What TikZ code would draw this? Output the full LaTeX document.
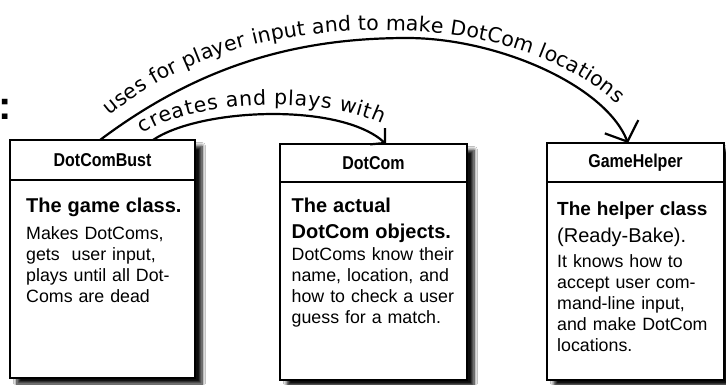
\documentclass[tikz,border=0pt]{standalone}
\usepackage{fontspec}
\setmainfont{Liberation Sans}
\newfontfamily\headfont[FakeStretch=0.86]{Liberation Sans}
\newfontfamily\handfont{DejaVu Sans}
\usetikzlibrary{arrows.meta, positioning, calc, fit, backgrounds, decorations.text, shadows.blur}
\newcommand{\bodysize}{\fontsize{17.8}{21}\selectfont}
\newcommand{\titlesize}{\fontsize{20}{25}\selectfont\bfseries}
\newcommand{\handsize}{\handfont\fontsize{20.5}{20.5}\selectfont}
\tikzset{
    classhead/.style  ={rectangle, draw=black, fill=white, line width=2.6pt, outer sep=0pt, inner sep=0pt, font=\headfont\bfseries\fontsize{18.6}{20}\selectfont},
    classbody/.style  ={rectangle, draw=black, fill=white, line width=2.6pt, outer sep=0pt, inner sep=0pt},
    classtext/.style  ={anchor=north west, inner sep=0pt, align=left, text width=180pt, font=\bodysize},
    classshadow/.style={rectangle, fill=white, inner sep=0pt, blur shadow={shadow xshift=7pt, shadow yshift=-6pt, shadow blur radius=3.5pt, shadow blur steps=8, shadow opacity=95}},
    usesarrow/.style  ={line width=2.2pt, -{Straight Barb[length=16pt, width=36pt]}},
    playsarrow/.style ={line width=2.2pt, -{Straight Barb[length=10pt, width=22pt]}},
    handlabel/.style  ={decorate, decoration={text along path, text align=fit to path, text={|\handsize|#1}}},
}

\begin{document}
\begin{tikzpicture}[x=1pt, y=-1pt]
    \useasboundingbox (0,0) rectangle (726,384);
    \node[font=\bfseries\fontsize{40}{40}\selectfont, anchor=base west, inner sep=0pt] (colon) at (-1.5,119) {:};

    % the three classes
    \node[classhead, minimum width=185pt, minimum height=40pt] (bust) at (102.5,160) {DotComBust};
    \node[classbody, below=0pt of bust, minimum width=185pt, minimum height=198pt] (bustbox) {};
    \node[classtext] (busttext) at ([xshift=16pt, yshift=-18pt]bustbox.north west)
        {{\titlesize The game class.}\\[6pt]
         Makes DotComs,\\ gets\ \ user input,\\ plays until all Dot-\\ Coms are dead};

    \node[classhead, minimum width=187pt, minimum height=38pt] (dotcom) at (373.5,163) {DotCom};
    \node[classbody, below=0pt of dotcom, minimum width=187pt, minimum height=198pt] (dotcombox) {};
    \node[classtext] (dotcomtext) at ([xshift=11.5pt, yshift=-16pt]dotcombox.north west)
        {{\titlesize The actual}\\[5pt] {\titlesize DotCom objects.}\\[1pt]
         DotComs know their\\ name, location, and\\ how to check a user\\ guess for a match.};

    \node[classhead, minimum width=177pt, minimum height=39pt] (helper) at (635.5,162.5) {GameHelper};
    \node[classbody, below=0pt of helper, minimum width=177pt, minimum height=198pt] (helperbox) {};
    \node[classtext] (helpertext) at ([xshift=10pt, yshift=-20pt]helperbox.north west)
        {{\titlesize\fontsize{19}{25}\selectfont The helper class}\\[5.5pt]
         {\fontsize{20}{25}\selectfont (Ready-Bake).}\\[4.5pt]
         It knows how to\\ accept user com-\\ mand-line input,\\ and make DotCom\\ locations.};

    \begin{scope}[on background layer]
        \fill[white] (0,0) rectangle (726,384);
        \node[classshadow, fit=(bust)(bustbox)] {};
        \node[classshadow, fit=(dotcom)(dotcombox)] {};
        \node[classshadow, fit=(helper)(helperbox)] {};
    \end{scope}

    % who uses whom
    \draw[usesarrow] ([xshift=-2.5pt]bust.north) .. controls (200,65) and (297,38) .. (407,38)
        .. controls (497,38) and (605,85) .. ([xshift=-7.5pt]helper.north);
    \draw[playsarrow] ([xshift=50.5pt]bust.north) .. controls (200,108) and (340,102) .. ([xshift=12.5pt]dotcom.north);
    \path[handlabel={creates and plays with}]
        (143,134) .. controls (190,100) and (322,95) .. (382,124);
    \path[handlabel={uses for player input and to make DotCom locations}]
        (110,116) .. controls (190,48) and (300,26) .. (410,31) .. controls (500,35) and (572,63) .. (617,104);
\end{tikzpicture}
\end{document}
